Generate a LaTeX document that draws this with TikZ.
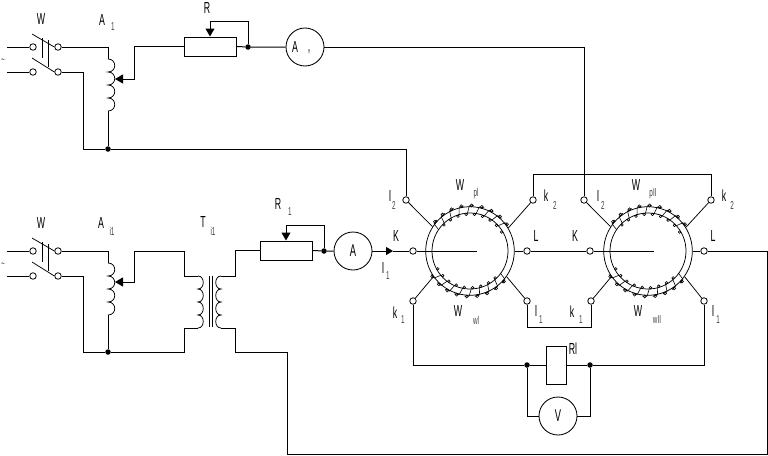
\documentclass[tikz,border=0pt]{standalone}
\usepackage{fontspec}
\usetikzlibrary{arrows.meta}
\newfontfamily\narrowfont[FakeStretch=0.55]{Liberation Sans}
\tikzset{
  x=1pt,y=-1pt,
  wire/.style={line width=1pt,line join=miter},
  fine/.style={line width=.75pt},
  tooth/.style={line width=.6pt},
  slide/.style={wire,-{Triangle[length=8pt,width=9pt]}},
  contact/.style={circle,draw,fill=white,inner sep=0pt,minimum size=6.5pt,line width=.8pt},
  joint/.style={circle,fill=black,inner sep=0pt,minimum size=5.5pt},
  res/.style={draw,line width=1pt,inner sep=0pt,minimum width=52pt,minimum height=19pt},
  meter/.style={circle,draw,line width=.85pt,inner sep=0pt,minimum size=38pt,font=\narrowfont\fontsize{17}{17}\selectfont},
  ring/.style={circle,draw,fine,inner sep=0pt},
  lab/.style={inner sep=0pt,font=\narrowfont\fontsize{16}{16}\selectfont},
  sub/.style={inner sep=0pt,text=black!75,font=\narrowfont\fontsize{11.5}{11.5}\selectfont},
  pics/coil/.style={code={
    \draw[fine] (0,0) .. controls (#1,0) and (#1,13) .. (0,13)
      .. controls (#1,13) and (#1,26) .. (0,26)
      .. controls (#1,26) and (#1,39) .. (0,39)
      .. controls (#1,39) and (#1,52) .. (0,52);
  }},
  pics/windings/.style={code={
    \foreach \a in {214,227,...,320,36,49,...,142}{
      \draw[tooth] (\a:37.5) -- (\a+3:45);
      \draw[tooth] (\a+6:45.6) circle[radius=1.5];
      \draw[tooth] (\a+3:45) -- (\a+9:45.5);
      \draw[tooth] (\a+11:36.8) circle[radius=1.3];
    }
  }},
}
\begin{document}
\begin{tikzpicture}
\useasboundingbox (0,0) rectangle (768,455);

% ---------- top supply
\coordinate (f1) at (7,47); \coordinate (f2) at (7,72);
\node[contact] (s1a) at (33,47) {}; \node[contact] (s1b) at (58,47) {};
\node[contact] (s1c) at (33,72) {}; \node[contact] (s1d) at (58,72) {};
\coordinate (b1a) at (32,34); \coordinate (b1b) at (32,58);
\draw[fine] (b1a) -- (s1b.west); \draw[fine] (b1b) -- (s1d.west);
\coordinate (v1a) at (42,38); \coordinate (v1b) at (42,58);
\coordinate (v1c) at (48.5,40); \coordinate (v1d) at (48.5,67);
\draw[fine] (v1a) -- (v1b); \draw[fine] (v1c) -- (v1d);
\draw[wire] (f1) -- (s1a); \draw[wire] (f2) -- (s1c);
\coordinate (c1t) at (108,59); \coordinate (c1b) at (108,111);
\pic at (c1t) {coil=9};
\node[joint] (j1) at (108,149) {};
\draw[wire] (s1b) -| (c1t);
\draw[wire] (c1b) -- (j1);
\coordinate (l1) at (83,149);
\draw[wire] (s1d) -| (l1) -- (j1);
\node[res] (R) at (210,46.5) {};
\node[joint] (jR) at (248,47) {};
\node[meter] (Ap) at (305,47) {};
\coordinate (cA1) at (134,79); \coordinate (tip1) at (115,79);
\draw[slide] (R.west) -| (cA1) -- (tip1);
\draw[wire] (R.east) -- (jR) -- (Ap);
\coordinate (tR) at (210,21);
\draw[slide] (jR) |- (tR) -- (R.north);

% ---------- bottom supply
\coordinate (f3) at (7,251); \coordinate (f4) at (7,276);
\node[contact] (s2a) at (33,251) {}; \node[contact] (s2b) at (58,251) {};
\node[contact] (s2c) at (33,276) {}; \node[contact] (s2d) at (58,276) {};
\coordinate (b2a) at (32,238); \coordinate (b2b) at (32,262);
\draw[fine] (b2a) -- (s2b.west); \draw[fine] (b2b) -- (s2d.west);
\coordinate (v2a) at (42,242); \coordinate (v2b) at (42,262);
\coordinate (v2c) at (48.5,244); \coordinate (v2d) at (48.5,271);
\draw[fine] (v2a) -- (v2b); \draw[fine] (v2c) -- (v2d);
\draw[wire] (f3) -- (s2a); \draw[wire] (f4) -- (s2c);
\coordinate (c2t) at (108,263); \coordinate (c2b) at (108,315);
\pic at (c2t) {coil=9};
\node[joint] (j2) at (108,352) {};
\draw[wire] (s2b) -| (c2t);
\draw[wire] (c2b) -- (j2);
\coordinate (l2) at (83,352);
\draw[wire] (s2d) -| (l2) -- (j2);
\coordinate (cA2) at (134,282); \coordinate (tip2) at (115,282);
\coordinate (pu) at (184,251); \coordinate (pt) at (184,276);
\coordinate (ct1) at (198,276); \coordinate (cb1) at (198,328);
\coordinate (pb) at (184,328);
\draw[slide] (pu) -| (cA2) -- (tip2);
\draw[wire] (pu) -- (pt) -- (ct1);
\pic at (ct1) {coil=7};
\draw[wire] (cb1) -- (pb) |- (j2);
\coordinate (core1a) at (209,276); \coordinate (core1b) at (209,327);
\coordinate (core2a) at (212,276); \coordinate (core2b) at (212,327);
\draw[fine] (core1a) -- (core1b); \draw[fine] (core2a) -- (core2b);
\coordinate (ct2) at (221,276); \coordinate (cb2) at (221,328);
\pic at (ct2) {coil=-7};
\node[res] (R1) at (286,250.5) {};
\node[joint] (jR1) at (324,251) {};
\node[meter] (Am) at (353,251) {A};
\coordinate (su) at (235,276);
\draw[wire] (ct2) -- (su) |- (R1.west);
\draw[wire] (R1.east) -- (jR1) -- (Am);
\coordinate (tR1) at (286,225);
\draw[slide] (jR1) |- (tR1) -- (R1.north);
\coordinate (sb) at (235,328); \coordinate (sc) at (235,352);
\coordinate (dn) at (287,352); \coordinate (bl) at (287,454); \coordinate (br) at (767,454);

% ---------- rings
\node[ring,minimum size=88.6pt] (r1) at (470,251) {};
\node[ring,minimum size=76pt] (r1i) at (470,251) {};
\node[ring,minimum size=88.6pt] (r2) at (648,251) {};
\node[ring,minimum size=76pt] (r2i) at (648,251) {};
\pic at (r1) {windings};
\pic at (r2) {windings};

\node[contact] (I2a) at (406,200) {};
\node[contact] (k2a) at (533,200) {};
\node[contact] (k1a) at (413,301) {};
\node[contact] (I1a) at (527,301) {};
\node[contact] (Ka) at (413,251) {};
\node[contact] (La) at (527,251) {};
\node[contact] (I2b) at (584,200) {};
\node[contact] (k2b) at (711,200) {};
\node[contact] (k1b) at (591,301) {};
\node[contact] (I1b) at (704,301) {};
\node[contact] (Kb) at (590,251) {};
\node[contact] (Lb) at (704,251) {};

\foreach \c/\r/\a in {I2a/r1/147,k2a/r1/31,k1a/r1/215,I1a/r1/325,I2b/r2/147,k2b/r2/32,k1b/r2/215,I1b/r2/325}
  \draw[fine] (\c) -- (\r.\a);

% ---------- circuit wires
\coordinate (ce1) at (477,251); \coordinate (ce2) at (654,251);
\coordinate (tipK) at (393,251);
\draw[wire,-{Triangle[length=7pt,width=8pt]}] (Am) -- (tipK);
\draw[wire] (tipK) -- (Ka);
\draw[wire] (Ka) -- (ce1);
\draw[wire] (Kb) -- (ce2);
\draw[wire] (r1.east) -- (La);
\draw[wire] (r2.east) -- (Lb);
\draw[wire] (La) -- (Kb);
\draw[wire] (j1) -| (I2a);
\draw[wire] (Ap) -| (I2b);
\coordinate (tp1) at (533,174); \coordinate (tp2) at (711,174);
\draw[wire] (k2a) -- (tp1) -- (tp2) -- (k2b);
\coordinate (m1) at (527,327); \coordinate (m2) at (591,327);
\draw[wire] (I1a) -- (m1) -- (m2) -- (k1b);
\coordinate (rt) at (767,251);
\draw[wire] (Lb) -- (rt) -- (br) -- (bl) -- (dn) -- (sc) -- (sb) -- (cb2);

% ---------- shunt and voltmeter
\node[draw,line width=1pt,inner sep=0pt,minimum width=20pt,minimum height=38pt] (Rl) at (556,365) {};
\node[joint] (jL) at (527,365) {};
\node[joint] (jRr) at (590,365) {};
\node[meter] (V) at (558,416) {V};
\coordinate (bot1) at (413,365); \coordinate (bot2) at (704,365);
\draw[wire] (k1a) -- (bot1) -- (jL) -- (Rl);
\draw[wire] (Rl) -- (jRr) -- (bot2) -- (I1b);
\draw[wire] (jL) |- (V);
\draw[wire] (jRr) |- (V);

% ---------- labels
\node[lab] (tW1) at (41,19) {W};
\node[lab] (tA1) at (102,20) {A};
\node[sub] (sA1) at (113,27) {1};
\node[lab] (tRa) at (207,8) {R};
\node[lab] (tAp) at (295,47) {A};
\node[lab] (sAp) at (309,52) {,};
\node[sub] (t1) at (3,61) {\string~};
\node[sub] (t2) at (3,265) {\string~};
\node[lab] (tW2) at (41,223) {W};
\node[lab] (tA2) at (101,223) {A};
\node[sub] (sA2) at (112,231) {i1};
\node[lab] (tT) at (203,222) {T};
\node[sub] (sT) at (213,231) {i1};
\node[lab] (tR1a) at (278,204) {R};
\node[sub] (sR1) at (290,212) {1};
\node[lab] (tW3) at (460,185) {W};
\node[sub] (sW3) at (476,194) {pl};
\node[lab] (tI2) at (390,196) {I};
\node[sub] (sI2) at (394,205) {2};
\node[lab] (tK1) at (396,236) {K};
\node[lab] (tI1) at (383,268) {I};
\node[sub] (sI1) at (388,276) {1};
\node[lab] (tk1) at (395,313) {k};
\node[sub] (sk1) at (403,320) {1};
\node[lab] (tW4) at (458,311) {W};
\node[sub] (sW4) at (476,320) {wl};
\node[lab] (tk2) at (546,196) {k};
\node[sub] (sk2) at (555,205) {2};
\node[lab] (tL1) at (536,236) {L};
\node[lab] (tK2) at (575,236) {K};
\node[lab] (tI3) at (536,311) {I};
\node[sub] (sI3) at (541,320) {1};
\node[lab] (tk3) at (572,312) {k};
\node[sub] (sk3) at (581,320) {1};
\node[lab] (tW5) at (636,185) {W};
\node[sub] (sW5) at (653,194) {pII};
\node[lab] (tI4) at (598,196) {I};
\node[sub] (sI4) at (603,205) {2};
\node[lab] (tk4) at (724,196) {k};
\node[sub] (sk4) at (732,205) {2};
\node[lab] (tL2) at (713,236) {L};
\node[lab] (tI5) at (713,311) {I};
\node[sub] (sI5) at (718,320) {1};
\node[lab] (tW6) at (638,311) {W};
\node[sub] (sW6) at (657,320) {wII};
\node[lab] (tRl) at (573,349) {Rl};
\end{tikzpicture}
\end{document}
